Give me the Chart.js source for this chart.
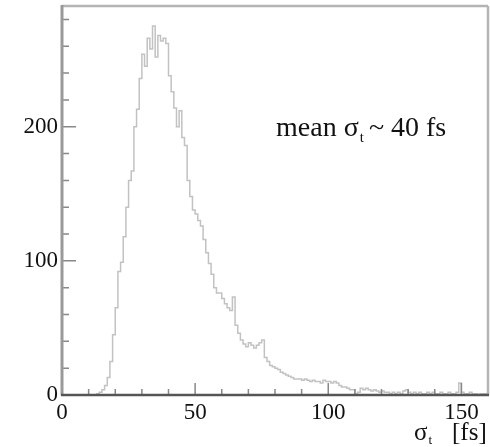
<!DOCTYPE html>
<html>
<head>
<meta charset="utf-8">
<script src="https://cdn.jsdelivr.net/npm/chart.js@4.4.1/dist/chart.umd.min.js"></script>
<style>
  html, body { margin: 0; padding: 0; background: #fff; }
  #wrap { width: 490px; height: 447px; }
</style>
</head>
<body>
<div id="wrap"><canvas id="chart"></canvas></div>
<script>
// histogram of sigma_t, 1 fs bins starting at 0
const binStart = 0
const binWidth = 1
const counts = [
  0, 0, 0, 0, 0, 0, 0, 0, 0, 0,
  0, 0, 0, 1, 2, 4, 7, 13, 25, 45,
  65, 92, 99, 118, 140, 160, 167, 200, 213, 236,
  254, 245, 266, 258, 275, 252, 268, 264, 266, 262,
  238, 226, 214, 200, 212, 192, 186, 160, 148, 138,
  135, 130, 126, 116, 106, 98, 90, 80, 76, 76,
  72, 68, 65, 63, 73, 52, 46, 41, 38, 36,
  39, 37, 35, 37, 39, 41, 28, 25, 22, 21,
  20, 19, 17, 16, 15, 14, 13, 12, 12, 12,
  11, 12, 11, 10, 11, 10, 10, 9, 11, 10,
  10, 9, 10, 9, 7, 6, 6, 5, 4, 4,
  1, 2, 5, 4, 5, 4, 3, 4, 3, 2,
  3, 2, 2, 1, 2, 1, 2, 1, 3, 4,
  2, 1, 2, 1, 2, 1, 1, 2, 1, 2,
  1, 1, 2, 1, 1, 2, 1, 1, 2, 9,
  2, 1, 1, 2, 1, 1, 0, 1, 1, 1
]

const xTicks = [0, 50, 100, 150]
const xMinorTicks = [10, 20, 30, 40, 60, 70, 80, 90, 110, 120, 130, 140]
const yTicks = [0, 100, 200]
const yMinorTicks = [20, 40, 60, 80, 120, 140, 160, 180, 220, 240, 260, 280]

const serif = "'Liberation Serif', 'DejaVu Serif', serif"

const points = counts.map((c, i) => ({ x: binStart + i * binWidth, y: c }))
points.push({ x: binStart + counts.length * binWidth, y: counts[counts.length - 1] })

const framePlugin = {
  id: "frame",
  afterDraw(chart) {
    const ctx = chart.ctx
    const a = chart.chartArea
    const xs = chart.scales.x
    const ys = chart.scales.y
    ctx.save()

    // inward ticks
    ctx.strokeStyle = "#888"
    ctx.lineWidth = 1.5
    ctx.beginPath()
    yTicks.forEach(v => { const p = ys.getPixelForValue(v); ctx.moveTo(a.left, p); ctx.lineTo(a.left + 14, p) })
    yMinorTicks.forEach(v => { const p = ys.getPixelForValue(v); ctx.moveTo(a.left, p); ctx.lineTo(a.left + 7, p) })
    xTicks.forEach(v => { const p = xs.getPixelForValue(v); ctx.moveTo(p, a.bottom); ctx.lineTo(p, a.bottom - 12) })
    xMinorTicks.forEach(v => { const p = xs.getPixelForValue(v); ctx.moveTo(p, a.bottom); ctx.lineTo(p, a.bottom - 6) })
    ctx.stroke()

    // frame
    ctx.strokeStyle = "#b4b4b4"
    ctx.lineWidth = 2.5
    ctx.beginPath()
    ctx.moveTo(a.left, a.top); ctx.lineTo(a.right, a.top)
    ctx.moveTo(a.right, a.top); ctx.lineTo(a.right, a.bottom)
    ctx.stroke()
    ctx.strokeStyle = "#999"
    ctx.lineWidth = 3
    ctx.beginPath()
    ctx.moveTo(a.left, a.top - 1); ctx.lineTo(a.left, a.bottom)
    ctx.stroke()
    ctx.strokeStyle = "#555"
    ctx.lineWidth = 2.5
    ctx.beginPath()
    ctx.moveTo(a.left - 1, a.bottom); ctx.lineTo(a.right + 1, a.bottom)
    ctx.stroke()

    // annotation
    ctx.fillStyle = "#111"
    ctx.textBaseline = "alphabetic"
    ctx.font = "28px " + serif
    let x = 276
    const y = 136
    ctx.fillText("mean σ", x, y)
    x += ctx.measureText("mean σ").width
    ctx.font = "15px " + serif
    ctx.fillText("t", x + 1, y + 6)
    x += ctx.measureText("t").width + 6
    ctx.font = "28px " + serif
    ctx.fillText("~ 40 fs", x, y)

    // axis title
    let tx = 414
    const ty = 440
    ctx.font = "25px " + serif
    ctx.fillText("σ", tx, ty)
    tx += ctx.measureText("σ").width
    ctx.font = "13px " + serif
    ctx.fillText("t", tx + 1, ty + 4)
    ctx.font = "25px " + serif
    ctx.fillText("[fs]", 452, ty)

    ctx.restore()
  }
}

new Chart(document.getElementById("chart"), {
  type: "line",
  data: {
    datasets: [{
      data: points,
      stepped: "before",
      borderColor: "#c2c2c2",
      borderWidth: 1.5,
      pointRadius: 0,
      fill: false,
    }]
  },
  options: {
    responsive: true,
    maintainAspectRatio: false,
    animation: false,
    layout: { padding: { top: 6, right: 2, left: 0, bottom: 0 } },
    plugins: { legend: { display: false }, tooltip: { enabled: false } },
    scales: {
      x: {
        type: "linear",
        min: 0,
        max: 160,
        grid: { display: false, drawTicks: false },
        border: { display: false },
        afterBuildTicks: s => { s.ticks = xTicks.map(v => ({ value: v })) },
        afterFit: s => { s.height = 52; s.paddingLeft = 0; s.paddingRight = 0 },
        ticks: {
          color: "#111",
          padding: 4,
          maxRotation: 0,
          font: { family: serif, size: 23 },
        },
      },
      y: {
        min: 0,
        max: 290,
        grid: { display: false, drawTicks: false },
        border: { display: false },
        afterBuildTicks: s => { s.ticks = yTicks.map(v => ({ value: v })) },
        afterFit: s => { s.width = 62; s.paddingTop = 0; s.paddingBottom = 0 },
        ticks: {
          color: "#111",
          padding: 4,
          font: { family: serif, size: 23 },
        },
      },
    },
  },
  plugins: [framePlugin],
})
</script>
</body>
</html>
